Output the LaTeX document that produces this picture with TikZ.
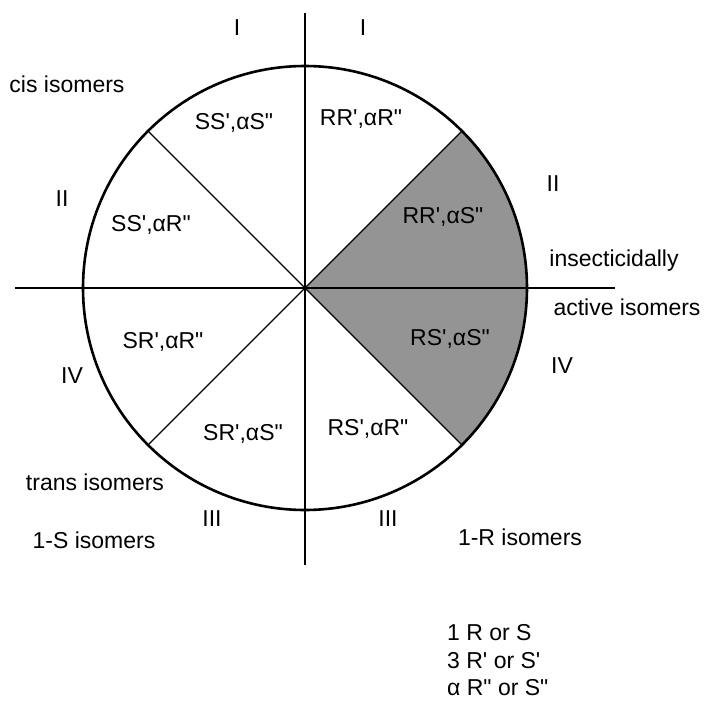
\documentclass[tikz,border=0pt]{standalone}
\usepackage{fontspec}
\newfontfamily\lab{Liberation Sans}
\begin{document}
\begin{tikzpicture}[x=1pt,y=-1pt,
  lbl/.style={font=\lab\fontsize{23}{27}\selectfont, inner sep=0pt, text height=1.7ex, text depth=0.3ex},
  lgd/.style={lbl, anchor=west},
  axis/.style={line width=1.3pt},
  ring/.style={line width=2.6pt},
  shade/.style={fill=black!42}]
\useasboundingbox (0,0) rectangle (705,704);
\coordinate (O) at (305,288);
\coordinate (hl) at (15,288);
\coordinate (hr) at (615,288);
\coordinate (vt) at (305,13);
\coordinate (vb) at (305,565);
% shaded sector
\fill[shade] (O) -- ++(-45:222) arc[start angle=-45,end angle=45,radius=222] -- cycle;
% axes
\draw[axis] (hl) -- (hr);
\draw[axis] (vt) -- (vb);
% diagonals
\draw[axis] (O) -- ++(45:222);
\draw[axis] (O) -- ++(135:222);
\draw[axis] (O) -- ++(225:222);
\draw[axis] (O) -- ++(315:222);
% circle
\draw[ring] (O) circle[radius=222];
% labels
\node[lbl] (i1) at (237,32) {I};
\node[lbl] (i2) at (363,32) {I};
\node[lbl] (cis) at (67,89) {cis isomers};
\node[lbl] (ssas) at (234,126) {SS',αS"};
\node[lbl] (rrar) at (361,122) {RR',αR"};
\node[lbl] (ii1) at (62,203) {II};
\node[lbl] (ii2) at (553,188) {II};
\node[lbl] (ssar) at (151,228) {SS',αR"};
\node[lbl] (rras) at (443,220) {RR',αS"};
\node[lbl] (ins) at (614,263) {insecticidally};
\node[lbl] (act) at (627,312) {active isomers};
\node[lbl] (iv2) at (562,370) {IV};
\node[lbl] (rsas) at (450,342) {RS',αS"};
\node[lbl] (srar) at (163,345) {SR',αR"};
\node[lbl] (iv1) at (72,380) {IV};
\node[lbl] (sras) at (243,437) {SR',αS"};
\node[lbl] (rsar) at (368,432) {RS',αR"};
\node[lbl] (trans) at (95,487) {trans isomers};
\node[lbl] (iii1) at (212,523) {III};
\node[lbl] (iii2) at (388,523) {III};
\node[lbl] (oneS) at (94,545) {1-S isomers};
\node[lbl] (oneR) at (520,542) {1-R isomers};
\node[lgd] (l1) at (447,637) {1 R or S};
\node[lgd] (l2) at (447,665) {3 R' or S'};
\node[lgd] (l3) at (447,692) {α R" or S"};
\end{tikzpicture}
\end{document}
